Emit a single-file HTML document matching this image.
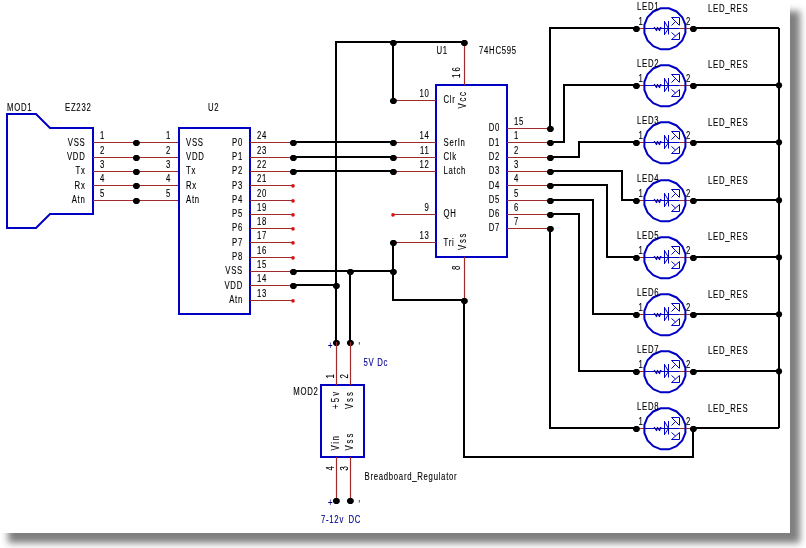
<!DOCTYPE html>
<html><head><meta charset="utf-8"><style>
html,body{margin:0;padding:0;background:#fff;width:806px;height:548px;overflow:hidden}
#shadow{position:absolute;left:8px;top:11px;width:792px;height:532px;background:rgba(0,0,0,0.5);filter:blur(3.5px)}
#page{position:absolute;left:0;top:0;width:790px;height:533px;background:#fff}
svg{position:absolute;left:0;top:0}
text{font-family:"Liberation Sans",sans-serif;letter-spacing:0.9px;stroke:currentColor;stroke-width:0.12px}
svg{will-change:transform}
</style></head><body>
<div id="shadow"></div><div id="page"></div>
<svg width="806" height="548" viewBox="0 0 806 548">
<polygon points="7,114 36,114 50,128 93,128 93,214 50,214 36,228 7,228" fill="none" stroke="#0000c4" stroke-width="2" stroke-linejoin="miter"/>
<text transform="translate(7 111) scale(0.8 1.05)" text-anchor="start" fill="#000" color="#000" font-size="9.7">MOD1</text>
<text transform="translate(65 111) scale(0.8 1.05)" text-anchor="start" fill="#000" color="#000" font-size="9.7">EZ232</text>
<line x1="93" y1="142.5" x2="179" y2="142.5" stroke="#a02a2a" stroke-width="1.2"/>
<text transform="translate(85.5 146) scale(0.8 1.05)" text-anchor="end" fill="#000" color="#000" font-size="9.7">VSS</text>
<text transform="translate(100 139) scale(0.8 1.05)" text-anchor="start" fill="#000" color="#000" font-size="9.7">1</text>
<text transform="translate(166 139) scale(0.8 1.05)" text-anchor="start" fill="#000" color="#000" font-size="9.7">1</text>
<text transform="translate(186 146) scale(0.8 1.05)" text-anchor="start" fill="#000" color="#000" font-size="9.7">VSS</text>
<polygon points="134.80,139.90 138.00,139.90 139.80,141.70 139.80,144.10 138.00,145.90 134.80,145.90 133.00,144.10 133.00,141.70" fill="#000"/>
<line x1="93" y1="157.5" x2="179" y2="157.5" stroke="#a02a2a" stroke-width="1.2"/>
<text transform="translate(85.5 160) scale(0.8 1.05)" text-anchor="end" fill="#000" color="#000" font-size="9.7">VDD</text>
<text transform="translate(100 154) scale(0.8 1.05)" text-anchor="start" fill="#000" color="#000" font-size="9.7">2</text>
<text transform="translate(166 154) scale(0.8 1.05)" text-anchor="start" fill="#000" color="#000" font-size="9.7">2</text>
<text transform="translate(186 160) scale(0.8 1.05)" text-anchor="start" fill="#000" color="#000" font-size="9.7">VDD</text>
<polygon points="134.80,154.90 138.00,154.90 139.80,156.70 139.80,159.10 138.00,160.90 134.80,160.90 133.00,159.10 133.00,156.70" fill="#000"/>
<line x1="93" y1="171.5" x2="179" y2="171.5" stroke="#a02a2a" stroke-width="1.2"/>
<text transform="translate(85.5 174) scale(0.8 1.05)" text-anchor="end" fill="#000" color="#000" font-size="9.7">Tx</text>
<text transform="translate(100 168) scale(0.8 1.05)" text-anchor="start" fill="#000" color="#000" font-size="9.7">3</text>
<text transform="translate(166 168) scale(0.8 1.05)" text-anchor="start" fill="#000" color="#000" font-size="9.7">3</text>
<text transform="translate(186 174) scale(0.8 1.05)" text-anchor="start" fill="#000" color="#000" font-size="9.7">Tx</text>
<polygon points="134.80,168.90 138.00,168.90 139.80,170.70 139.80,173.10 138.00,174.90 134.80,174.90 133.00,173.10 133.00,170.70" fill="#000"/>
<line x1="93" y1="185.5" x2="179" y2="185.5" stroke="#a02a2a" stroke-width="1.2"/>
<text transform="translate(85.5 189) scale(0.8 1.05)" text-anchor="end" fill="#000" color="#000" font-size="9.7">Rx</text>
<text transform="translate(100 182) scale(0.8 1.05)" text-anchor="start" fill="#000" color="#000" font-size="9.7">4</text>
<text transform="translate(166 182) scale(0.8 1.05)" text-anchor="start" fill="#000" color="#000" font-size="9.7">4</text>
<text transform="translate(186 189) scale(0.8 1.05)" text-anchor="start" fill="#000" color="#000" font-size="9.7">Rx</text>
<polygon points="134.80,182.90 138.00,182.90 139.80,184.70 139.80,187.10 138.00,188.90 134.80,188.90 133.00,187.10 133.00,184.70" fill="#000"/>
<line x1="93" y1="200.5" x2="179" y2="200.5" stroke="#a02a2a" stroke-width="1.2"/>
<text transform="translate(85.5 203) scale(0.8 1.05)" text-anchor="end" fill="#000" color="#000" font-size="9.7">Atn</text>
<text transform="translate(100 197) scale(0.8 1.05)" text-anchor="start" fill="#000" color="#000" font-size="9.7">5</text>
<text transform="translate(166 197) scale(0.8 1.05)" text-anchor="start" fill="#000" color="#000" font-size="9.7">5</text>
<text transform="translate(186 203) scale(0.8 1.05)" text-anchor="start" fill="#000" color="#000" font-size="9.7">Atn</text>
<polygon points="134.80,197.90 138.00,197.90 139.80,199.70 139.80,202.10 138.00,203.90 134.80,203.90 133.00,202.10 133.00,199.70" fill="#000"/>
<rect x="179" y="128" width="71" height="186" fill="none" stroke="#0000c4" stroke-width="2"/>
<text transform="translate(208 111) scale(0.8 1.05)" text-anchor="start" fill="#000" color="#000" font-size="9.7">U2</text>
<line x1="250" y1="142.5" x2="293" y2="142.5" stroke="#a02a2a" stroke-width="1.2"/>
<text transform="translate(243 146) scale(0.8 1.05)" text-anchor="end" fill="#000" color="#000" font-size="9.7">P0</text>
<text transform="translate(257 139) scale(0.8 1.05)" text-anchor="start" fill="#000" color="#000" font-size="9.7">24</text>
<polygon points="291.80,139.90 295.00,139.90 296.80,141.70 296.80,144.10 295.00,145.90 291.80,145.90 290.00,144.10 290.00,141.70" fill="#000"/>
<line x1="250" y1="157.5" x2="293" y2="157.5" stroke="#a02a2a" stroke-width="1.2"/>
<text transform="translate(243 160) scale(0.8 1.05)" text-anchor="end" fill="#000" color="#000" font-size="9.7">P1</text>
<text transform="translate(257 154) scale(0.8 1.05)" text-anchor="start" fill="#000" color="#000" font-size="9.7">23</text>
<polygon points="291.80,154.90 295.00,154.90 296.80,156.70 296.80,159.10 295.00,160.90 291.80,160.90 290.00,159.10 290.00,156.70" fill="#000"/>
<line x1="250" y1="171.5" x2="293" y2="171.5" stroke="#a02a2a" stroke-width="1.2"/>
<text transform="translate(243 174) scale(0.8 1.05)" text-anchor="end" fill="#000" color="#000" font-size="9.7">P2</text>
<text transform="translate(257 168) scale(0.8 1.05)" text-anchor="start" fill="#000" color="#000" font-size="9.7">22</text>
<polygon points="291.80,168.90 295.00,168.90 296.80,170.70 296.80,173.10 295.00,174.90 291.80,174.90 290.00,173.10 290.00,170.70" fill="#000"/>
<line x1="250" y1="185.5" x2="293" y2="185.5" stroke="#a02a2a" stroke-width="1.2"/>
<text transform="translate(243 189) scale(0.8 1.05)" text-anchor="end" fill="#000" color="#000" font-size="9.7">P3</text>
<text transform="translate(257 182) scale(0.8 1.05)" text-anchor="start" fill="#000" color="#000" font-size="9.7">21</text>
<circle cx="293" cy="185.9" r="1.8" fill="#e01010"/>
<line x1="250" y1="200.5" x2="293" y2="200.5" stroke="#a02a2a" stroke-width="1.2"/>
<text transform="translate(243 203) scale(0.8 1.05)" text-anchor="end" fill="#000" color="#000" font-size="9.7">P4</text>
<text transform="translate(257 197) scale(0.8 1.05)" text-anchor="start" fill="#000" color="#000" font-size="9.7">20</text>
<circle cx="293" cy="200.9" r="1.8" fill="#e01010"/>
<line x1="250" y1="214.5" x2="293" y2="214.5" stroke="#a02a2a" stroke-width="1.2"/>
<text transform="translate(243 217) scale(0.8 1.05)" text-anchor="end" fill="#000" color="#000" font-size="9.7">P5</text>
<text transform="translate(257 211) scale(0.8 1.05)" text-anchor="start" fill="#000" color="#000" font-size="9.7">19</text>
<circle cx="293" cy="214.9" r="1.8" fill="#e01010"/>
<line x1="250" y1="228.5" x2="293" y2="228.5" stroke="#a02a2a" stroke-width="1.2"/>
<text transform="translate(243 231) scale(0.8 1.05)" text-anchor="end" fill="#000" color="#000" font-size="9.7">P6</text>
<text transform="translate(257 225) scale(0.8 1.05)" text-anchor="start" fill="#000" color="#000" font-size="9.7">18</text>
<circle cx="293" cy="228.9" r="1.8" fill="#e01010"/>
<line x1="250" y1="242.5" x2="293" y2="242.5" stroke="#a02a2a" stroke-width="1.2"/>
<text transform="translate(243 246) scale(0.8 1.05)" text-anchor="end" fill="#000" color="#000" font-size="9.7">P7</text>
<text transform="translate(257 239) scale(0.8 1.05)" text-anchor="start" fill="#000" color="#000" font-size="9.7">17</text>
<circle cx="293" cy="242.9" r="1.8" fill="#e01010"/>
<line x1="250" y1="257.5" x2="293" y2="257.5" stroke="#a02a2a" stroke-width="1.2"/>
<text transform="translate(243 260) scale(0.8 1.05)" text-anchor="end" fill="#000" color="#000" font-size="9.7">P8</text>
<text transform="translate(257 254) scale(0.8 1.05)" text-anchor="start" fill="#000" color="#000" font-size="9.7">16</text>
<circle cx="293" cy="257.9" r="1.8" fill="#e01010"/>
<line x1="250" y1="271.5" x2="293" y2="271.5" stroke="#a02a2a" stroke-width="1.2"/>
<text transform="translate(243 274) scale(0.8 1.05)" text-anchor="end" fill="#000" color="#000" font-size="9.7">VSS</text>
<text transform="translate(257 268) scale(0.8 1.05)" text-anchor="start" fill="#000" color="#000" font-size="9.7">15</text>
<polygon points="291.80,268.90 295.00,268.90 296.80,270.70 296.80,273.10 295.00,274.90 291.80,274.90 290.00,273.10 290.00,270.70" fill="#000"/>
<line x1="250" y1="285.5" x2="293" y2="285.5" stroke="#a02a2a" stroke-width="1.2"/>
<text transform="translate(243 289) scale(0.8 1.05)" text-anchor="end" fill="#000" color="#000" font-size="9.7">VDD</text>
<text transform="translate(257 282) scale(0.8 1.05)" text-anchor="start" fill="#000" color="#000" font-size="9.7">14</text>
<polygon points="291.80,282.90 295.00,282.90 296.80,284.70 296.80,287.10 295.00,288.90 291.80,288.90 290.00,287.10 290.00,284.70" fill="#000"/>
<line x1="250" y1="300.5" x2="293" y2="300.5" stroke="#a02a2a" stroke-width="1.2"/>
<text transform="translate(243 303) scale(0.8 1.05)" text-anchor="end" fill="#000" color="#000" font-size="9.7">Atn</text>
<text transform="translate(257 297) scale(0.8 1.05)" text-anchor="start" fill="#000" color="#000" font-size="9.7">13</text>
<circle cx="293" cy="300.9" r="1.8" fill="#e01010"/>
<polyline points="293,142 393,142" fill="none" stroke="#000" stroke-width="2" stroke-linejoin="miter"/>
<polyline points="293,157 393,157" fill="none" stroke="#000" stroke-width="2" stroke-linejoin="miter"/>
<polyline points="293,171 393,171" fill="none" stroke="#000" stroke-width="2" stroke-linejoin="miter"/>
<polyline points="293,271 393,271" fill="none" stroke="#000" stroke-width="2" stroke-linejoin="miter"/>
<polyline points="293,285 336,285" fill="none" stroke="#000" stroke-width="2" stroke-linejoin="miter"/>
<polyline points="336,342 336,42 464,42" fill="none" stroke="#000" stroke-width="2" stroke-linejoin="miter"/>
<polyline points="393,42 393,100" fill="none" stroke="#000" stroke-width="2" stroke-linejoin="miter"/>
<polyline points="350,271 350,342" fill="none" stroke="#000" stroke-width="2" stroke-linejoin="miter"/>
<polyline points="393,242 393,300 464,300 464,457 693,457 693,428" fill="none" stroke="#000" stroke-width="2" stroke-linejoin="miter"/>
<rect x="436" y="85" width="71" height="172" fill="none" stroke="#0000c4" stroke-width="2"/>
<text transform="translate(436.5 54) scale(0.8 1.05)" text-anchor="start" fill="#000" color="#000" font-size="9.7">U1</text>
<text transform="translate(479 54) scale(0.8 1.05)" text-anchor="start" fill="#000" color="#000" font-size="9.7">74HC595</text>
<line x1="464.5" y1="42" x2="464.5" y2="85" stroke="#a02a2a" stroke-width="1.2"/>
<line x1="464.5" y1="257" x2="464.5" y2="300" stroke="#a02a2a" stroke-width="1.2"/>
<line x1="393" y1="100.5" x2="436" y2="100.5" stroke="#a02a2a" stroke-width="1.2"/>
<text transform="translate(443.5 103) scale(0.8 1.05)" text-anchor="start" fill="#000" color="#000" font-size="9.7">Clr</text>
<text transform="translate(429.5 97) scale(0.8 1.05)" text-anchor="end" fill="#000" color="#000" font-size="9.7">10</text>
<line x1="393" y1="142.5" x2="436" y2="142.5" stroke="#a02a2a" stroke-width="1.2"/>
<text transform="translate(443.5 146) scale(0.8 1.05)" text-anchor="start" fill="#000" color="#000" font-size="9.7">SerIn</text>
<text transform="translate(429.5 139) scale(0.8 1.05)" text-anchor="end" fill="#000" color="#000" font-size="9.7">14</text>
<line x1="393" y1="157.5" x2="436" y2="157.5" stroke="#a02a2a" stroke-width="1.2"/>
<text transform="translate(443.5 160) scale(0.8 1.05)" text-anchor="start" fill="#000" color="#000" font-size="9.7">Clk</text>
<text transform="translate(429.5 154) scale(0.8 1.05)" text-anchor="end" fill="#000" color="#000" font-size="9.7">11</text>
<line x1="393" y1="171.5" x2="436" y2="171.5" stroke="#a02a2a" stroke-width="1.2"/>
<text transform="translate(443.5 174) scale(0.8 1.05)" text-anchor="start" fill="#000" color="#000" font-size="9.7">Latch</text>
<text transform="translate(429.5 168) scale(0.8 1.05)" text-anchor="end" fill="#000" color="#000" font-size="9.7">12</text>
<line x1="393" y1="214.5" x2="436" y2="214.5" stroke="#a02a2a" stroke-width="1.2"/>
<text transform="translate(443.5 217) scale(0.8 1.05)" text-anchor="start" fill="#000" color="#000" font-size="9.7">QH</text>
<text transform="translate(429.5 211) scale(0.8 1.05)" text-anchor="end" fill="#000" color="#000" font-size="9.7">9</text>
<line x1="393" y1="242.5" x2="436" y2="242.5" stroke="#a02a2a" stroke-width="1.2"/>
<text transform="translate(443.5 246) scale(0.8 1.05)" text-anchor="start" fill="#000" color="#000" font-size="9.7">Tri</text>
<text transform="translate(429.5 239) scale(0.8 1.05)" text-anchor="end" fill="#000" color="#000" font-size="9.7">13</text>
<circle cx="393" cy="214.9" r="1.8" fill="#e01010"/>
<line x1="507" y1="128.5" x2="550" y2="128.5" stroke="#a02a2a" stroke-width="1.2"/>
<text transform="translate(500 131) scale(0.8 1.05)" text-anchor="end" fill="#000" color="#000" font-size="9.7">D0</text>
<text transform="translate(514 125) scale(0.8 1.05)" text-anchor="start" fill="#000" color="#000" font-size="9.7">15</text>
<polygon points="548.80,125.90 552.00,125.90 553.80,127.70 553.80,130.10 552.00,131.90 548.80,131.90 547.00,130.10 547.00,127.70" fill="#000"/>
<line x1="507" y1="142.5" x2="550" y2="142.5" stroke="#a02a2a" stroke-width="1.2"/>
<text transform="translate(500 146) scale(0.8 1.05)" text-anchor="end" fill="#000" color="#000" font-size="9.7">D1</text>
<text transform="translate(514 139) scale(0.8 1.05)" text-anchor="start" fill="#000" color="#000" font-size="9.7">1</text>
<polygon points="548.80,139.90 552.00,139.90 553.80,141.70 553.80,144.10 552.00,145.90 548.80,145.90 547.00,144.10 547.00,141.70" fill="#000"/>
<line x1="507" y1="157.5" x2="550" y2="157.5" stroke="#a02a2a" stroke-width="1.2"/>
<text transform="translate(500 160) scale(0.8 1.05)" text-anchor="end" fill="#000" color="#000" font-size="9.7">D2</text>
<text transform="translate(514 154) scale(0.8 1.05)" text-anchor="start" fill="#000" color="#000" font-size="9.7">2</text>
<polygon points="548.80,154.90 552.00,154.90 553.80,156.70 553.80,159.10 552.00,160.90 548.80,160.90 547.00,159.10 547.00,156.70" fill="#000"/>
<line x1="507" y1="171.5" x2="550" y2="171.5" stroke="#a02a2a" stroke-width="1.2"/>
<text transform="translate(500 174) scale(0.8 1.05)" text-anchor="end" fill="#000" color="#000" font-size="9.7">D3</text>
<text transform="translate(514 168) scale(0.8 1.05)" text-anchor="start" fill="#000" color="#000" font-size="9.7">3</text>
<polygon points="548.80,168.90 552.00,168.90 553.80,170.70 553.80,173.10 552.00,174.90 548.80,174.90 547.00,173.10 547.00,170.70" fill="#000"/>
<line x1="507" y1="185.5" x2="550" y2="185.5" stroke="#a02a2a" stroke-width="1.2"/>
<text transform="translate(500 189) scale(0.8 1.05)" text-anchor="end" fill="#000" color="#000" font-size="9.7">D4</text>
<text transform="translate(514 182) scale(0.8 1.05)" text-anchor="start" fill="#000" color="#000" font-size="9.7">4</text>
<polygon points="548.80,182.90 552.00,182.90 553.80,184.70 553.80,187.10 552.00,188.90 548.80,188.90 547.00,187.10 547.00,184.70" fill="#000"/>
<line x1="507" y1="200.5" x2="550" y2="200.5" stroke="#a02a2a" stroke-width="1.2"/>
<text transform="translate(500 203) scale(0.8 1.05)" text-anchor="end" fill="#000" color="#000" font-size="9.7">D5</text>
<text transform="translate(514 197) scale(0.8 1.05)" text-anchor="start" fill="#000" color="#000" font-size="9.7">5</text>
<polygon points="548.80,197.90 552.00,197.90 553.80,199.70 553.80,202.10 552.00,203.90 548.80,203.90 547.00,202.10 547.00,199.70" fill="#000"/>
<line x1="507" y1="214.5" x2="550" y2="214.5" stroke="#a02a2a" stroke-width="1.2"/>
<text transform="translate(500 217) scale(0.8 1.05)" text-anchor="end" fill="#000" color="#000" font-size="9.7">D6</text>
<text transform="translate(514 211) scale(0.8 1.05)" text-anchor="start" fill="#000" color="#000" font-size="9.7">6</text>
<polygon points="548.80,211.90 552.00,211.90 553.80,213.70 553.80,216.10 552.00,217.90 548.80,217.90 547.00,216.10 547.00,213.70" fill="#000"/>
<line x1="507" y1="228.5" x2="550" y2="228.5" stroke="#a02a2a" stroke-width="1.2"/>
<text transform="translate(500 231) scale(0.8 1.05)" text-anchor="end" fill="#000" color="#000" font-size="9.7">D7</text>
<text transform="translate(514 225) scale(0.8 1.05)" text-anchor="start" fill="#000" color="#000" font-size="9.7">7</text>
<polygon points="548.80,225.90 552.00,225.90 553.80,227.70 553.80,230.10 552.00,231.90 548.80,231.90 547.00,230.10 547.00,227.70" fill="#000"/>
<text transform="translate(460 78) rotate(-90) scale(0.8 1.05)" text-anchor="start" fill="#000" color="#000" font-size="9.7" style="letter-spacing:2.6px">16</text>
<text transform="translate(466 108.5) rotate(-90) scale(0.8 1.05)" text-anchor="start" fill="#000" color="#000" font-size="9.7" style="letter-spacing:2.2px">Vcc</text>
<text transform="translate(460 270) rotate(-90) scale(0.8 1.05)" text-anchor="start" fill="#000" color="#000" font-size="9.7">8</text>
<text transform="translate(466 250) rotate(-90) scale(0.8 1.05)" text-anchor="start" fill="#000" color="#000" font-size="9.7" style="letter-spacing:2.2px">Vss</text>
<polygon points="391.80,39.90 395.00,39.90 396.80,41.70 396.80,44.10 395.00,45.90 391.80,45.90 390.00,44.10 390.00,41.70" fill="#000"/>
<polygon points="391.80,97.90 395.00,97.90 396.80,99.70 396.80,102.10 395.00,103.90 391.80,103.90 390.00,102.10 390.00,99.70" fill="#000"/>
<polygon points="391.80,139.90 395.00,139.90 396.80,141.70 396.80,144.10 395.00,145.90 391.80,145.90 390.00,144.10 390.00,141.70" fill="#000"/>
<polygon points="391.80,154.90 395.00,154.90 396.80,156.70 396.80,159.10 395.00,160.90 391.80,160.90 390.00,159.10 390.00,156.70" fill="#000"/>
<polygon points="391.80,168.90 395.00,168.90 396.80,170.70 396.80,173.10 395.00,174.90 391.80,174.90 390.00,173.10 390.00,170.70" fill="#000"/>
<polygon points="391.80,239.90 395.00,239.90 396.80,241.70 396.80,244.10 395.00,245.90 391.80,245.90 390.00,244.10 390.00,241.70" fill="#000"/>
<polygon points="391.80,268.90 395.00,268.90 396.80,270.70 396.80,273.10 395.00,274.90 391.80,274.90 390.00,273.10 390.00,270.70" fill="#000"/>
<polygon points="462.80,39.90 466.00,39.90 467.80,41.70 467.80,44.10 466.00,45.90 462.80,45.90 461.00,44.10 461.00,41.70" fill="#000"/>
<polygon points="462.80,297.90 466.00,297.90 467.80,299.70 467.80,302.10 466.00,303.90 462.80,303.90 461.00,302.10 461.00,299.70" fill="#000"/>
<polygon points="334.80,282.90 338.00,282.90 339.80,284.70 339.80,287.10 338.00,288.90 334.80,288.90 333.00,287.10 333.00,284.70" fill="#000"/>
<polygon points="334.80,339.90 338.00,339.90 339.80,341.70 339.80,344.10 338.00,345.90 334.80,345.90 333.00,344.10 333.00,341.70" fill="#000"/>
<polygon points="348.80,268.90 352.00,268.90 353.80,270.70 353.80,273.10 352.00,274.90 348.80,274.90 347.00,273.10 347.00,270.70" fill="#000"/>
<polygon points="348.80,339.90 352.00,339.90 353.80,341.70 353.80,344.10 352.00,345.90 348.80,345.90 347.00,344.10 347.00,341.70" fill="#000"/>
<polyline points="550,128 550,28 636,28" fill="none" stroke="#000" stroke-width="2" stroke-linejoin="miter"/>
<polyline points="550,142 564,142 564,85 636,85" fill="none" stroke="#000" stroke-width="2" stroke-linejoin="miter"/>
<polyline points="550,157 579,157 579,142 636,142" fill="none" stroke="#000" stroke-width="2" stroke-linejoin="miter"/>
<polyline points="550,171 622,171 622,200 636,200" fill="none" stroke="#000" stroke-width="2" stroke-linejoin="miter"/>
<polyline points="550,185 607,185 607,257 636,257" fill="none" stroke="#000" stroke-width="2" stroke-linejoin="miter"/>
<polyline points="550,200 593,200 593,314 636,314" fill="none" stroke="#000" stroke-width="2" stroke-linejoin="miter"/>
<polyline points="550,214 579,214 579,371 636,371" fill="none" stroke="#000" stroke-width="2" stroke-linejoin="miter"/>
<polyline points="550,228 550,428 636,428" fill="none" stroke="#000" stroke-width="2" stroke-linejoin="miter"/>
<polyline points="779,28 779,428" fill="none" stroke="#000" stroke-width="2" stroke-linejoin="miter"/>
<polyline points="693,28 779,28" fill="none" stroke="#000" stroke-width="2" stroke-linejoin="miter"/>
<line x1="636" y1="28.5" x2="693" y2="28.5" stroke="#a02a2a" stroke-width="1.1"/>
<polygon points="685.40,32.93 682.28,40.46 676.51,46.23 668.98,49.35 660.82,49.35 653.29,46.23 647.52,40.46 644.40,32.93 644.40,24.77 647.52,17.24 653.29,11.47 660.82,8.35 668.98,8.35 676.51,11.47 682.28,17.24 685.40,24.77" fill="none" stroke="#0000c4" stroke-width="2"/>
<g transform="translate(665,28)" fill="none" stroke="#0000c4" stroke-width="1" stroke-linejoin="round"><path d="M-20,0.5 H-11 M-3.5,0.5 H14"/><path d="M-11,0.5 L-10.5,-0.5 L-8.5,2.5 L-7.5,-0.5 L-5.5,2.5 L-4.5,-0.5 L-3.5,0.5" stroke-width="1.3"/><path d="M-0.5,-7 V7 M3.5,-7 V6.5 M-0.5,-6.5 L3.5,0.5 L-0.5,6.5"/><path d="M6.5,-10.5 H14.5 V-3 M6.5,-10.5 L14.5,-2.5 M6.5,-2.5 L10.5,-6.5"/><path d="M6.5,11.5 H14.5 V4.5 M6.5,11.5 L14.5,4.5 M6.5,4.5 L10.5,8"/></g>
<polygon points="634.80,25.90 638.00,25.90 639.80,27.70 639.80,30.10 638.00,31.90 634.80,31.90 633.00,30.10 633.00,27.70" fill="#000"/>
<polygon points="691.80,25.90 695.00,25.90 696.80,27.70 696.80,30.10 695.00,31.90 691.80,31.90 690.00,30.10 690.00,27.70" fill="#000"/>
<text transform="translate(637 10) scale(0.8 1.05)" text-anchor="start" fill="#000" color="#000" font-size="9.7">LED1</text>
<text transform="translate(638.5 25) scale(0.8 1.05)" text-anchor="start" fill="#000" color="#000" font-size="9.7">1</text>
<text transform="translate(686 25) scale(0.8 1.05)" text-anchor="start" fill="#000" color="#000" font-size="9.7">2</text>
<text transform="translate(708 12) scale(0.8 1.05)" text-anchor="start" fill="#000" color="#000" font-size="9.7">LED_RES</text>
<polyline points="693,85 779,85" fill="none" stroke="#000" stroke-width="2" stroke-linejoin="miter"/>
<line x1="636" y1="85.5" x2="693" y2="85.5" stroke="#a02a2a" stroke-width="1.1"/>
<polygon points="685.40,89.93 682.28,97.46 676.51,103.23 668.98,106.35 660.82,106.35 653.29,103.23 647.52,97.46 644.40,89.93 644.40,81.77 647.52,74.24 653.29,68.47 660.82,65.35 668.98,65.35 676.51,68.47 682.28,74.24 685.40,81.77" fill="none" stroke="#0000c4" stroke-width="2"/>
<g transform="translate(665,85)" fill="none" stroke="#0000c4" stroke-width="1" stroke-linejoin="round"><path d="M-20,0.5 H-11 M-3.5,0.5 H14"/><path d="M-11,0.5 L-10.5,-0.5 L-8.5,2.5 L-7.5,-0.5 L-5.5,2.5 L-4.5,-0.5 L-3.5,0.5" stroke-width="1.3"/><path d="M-0.5,-7 V7 M3.5,-7 V6.5 M-0.5,-6.5 L3.5,0.5 L-0.5,6.5"/><path d="M6.5,-10.5 H14.5 V-3 M6.5,-10.5 L14.5,-2.5 M6.5,-2.5 L10.5,-6.5"/><path d="M6.5,11.5 H14.5 V4.5 M6.5,11.5 L14.5,4.5 M6.5,4.5 L10.5,8"/></g>
<polygon points="634.80,82.90 638.00,82.90 639.80,84.70 639.80,87.10 638.00,88.90 634.80,88.90 633.00,87.10 633.00,84.70" fill="#000"/>
<polygon points="691.80,82.90 695.00,82.90 696.80,84.70 696.80,87.10 695.00,88.90 691.80,88.90 690.00,87.10 690.00,84.70" fill="#000"/>
<circle cx="779" cy="85.3" r="3.1" fill="#000"/>
<text transform="translate(637 67) scale(0.8 1.05)" text-anchor="start" fill="#000" color="#000" font-size="9.7">LED2</text>
<text transform="translate(638.5 82) scale(0.8 1.05)" text-anchor="start" fill="#000" color="#000" font-size="9.7">1</text>
<text transform="translate(686 82) scale(0.8 1.05)" text-anchor="start" fill="#000" color="#000" font-size="9.7">2</text>
<text transform="translate(708 68) scale(0.8 1.05)" text-anchor="start" fill="#000" color="#000" font-size="9.7">LED_RES</text>
<polyline points="693,142 779,142" fill="none" stroke="#000" stroke-width="2" stroke-linejoin="miter"/>
<line x1="636" y1="142.5" x2="693" y2="142.5" stroke="#a02a2a" stroke-width="1.1"/>
<polygon points="685.40,146.93 682.28,154.46 676.51,160.23 668.98,163.35 660.82,163.35 653.29,160.23 647.52,154.46 644.40,146.93 644.40,138.77 647.52,131.24 653.29,125.47 660.82,122.35 668.98,122.35 676.51,125.47 682.28,131.24 685.40,138.77" fill="none" stroke="#0000c4" stroke-width="2"/>
<g transform="translate(665,142)" fill="none" stroke="#0000c4" stroke-width="1" stroke-linejoin="round"><path d="M-20,0.5 H-11 M-3.5,0.5 H14"/><path d="M-11,0.5 L-10.5,-0.5 L-8.5,2.5 L-7.5,-0.5 L-5.5,2.5 L-4.5,-0.5 L-3.5,0.5" stroke-width="1.3"/><path d="M-0.5,-7 V7 M3.5,-7 V6.5 M-0.5,-6.5 L3.5,0.5 L-0.5,6.5"/><path d="M6.5,-10.5 H14.5 V-3 M6.5,-10.5 L14.5,-2.5 M6.5,-2.5 L10.5,-6.5"/><path d="M6.5,11.5 H14.5 V4.5 M6.5,11.5 L14.5,4.5 M6.5,4.5 L10.5,8"/></g>
<polygon points="634.80,139.90 638.00,139.90 639.80,141.70 639.80,144.10 638.00,145.90 634.80,145.90 633.00,144.10 633.00,141.70" fill="#000"/>
<polygon points="691.80,139.90 695.00,139.90 696.80,141.70 696.80,144.10 695.00,145.90 691.80,145.90 690.00,144.10 690.00,141.70" fill="#000"/>
<circle cx="779" cy="142.3" r="3.1" fill="#000"/>
<text transform="translate(637 124) scale(0.8 1.05)" text-anchor="start" fill="#000" color="#000" font-size="9.7">LED3</text>
<text transform="translate(638.5 139) scale(0.8 1.05)" text-anchor="start" fill="#000" color="#000" font-size="9.7">1</text>
<text transform="translate(686 139) scale(0.8 1.05)" text-anchor="start" fill="#000" color="#000" font-size="9.7">2</text>
<text transform="translate(708 126) scale(0.8 1.05)" text-anchor="start" fill="#000" color="#000" font-size="9.7">LED_RES</text>
<polyline points="693,200 779,200" fill="none" stroke="#000" stroke-width="2" stroke-linejoin="miter"/>
<line x1="636" y1="200.5" x2="693" y2="200.5" stroke="#a02a2a" stroke-width="1.1"/>
<polygon points="685.40,204.93 682.28,212.46 676.51,218.23 668.98,221.35 660.82,221.35 653.29,218.23 647.52,212.46 644.40,204.93 644.40,196.77 647.52,189.24 653.29,183.47 660.82,180.35 668.98,180.35 676.51,183.47 682.28,189.24 685.40,196.77" fill="none" stroke="#0000c4" stroke-width="2"/>
<g transform="translate(665,200)" fill="none" stroke="#0000c4" stroke-width="1" stroke-linejoin="round"><path d="M-20,0.5 H-11 M-3.5,0.5 H14"/><path d="M-11,0.5 L-10.5,-0.5 L-8.5,2.5 L-7.5,-0.5 L-5.5,2.5 L-4.5,-0.5 L-3.5,0.5" stroke-width="1.3"/><path d="M-0.5,-7 V7 M3.5,-7 V6.5 M-0.5,-6.5 L3.5,0.5 L-0.5,6.5"/><path d="M6.5,-10.5 H14.5 V-3 M6.5,-10.5 L14.5,-2.5 M6.5,-2.5 L10.5,-6.5"/><path d="M6.5,11.5 H14.5 V4.5 M6.5,11.5 L14.5,4.5 M6.5,4.5 L10.5,8"/></g>
<polygon points="634.80,197.90 638.00,197.90 639.80,199.70 639.80,202.10 638.00,203.90 634.80,203.90 633.00,202.10 633.00,199.70" fill="#000"/>
<polygon points="691.80,197.90 695.00,197.90 696.80,199.70 696.80,202.10 695.00,203.90 691.80,203.90 690.00,202.10 690.00,199.70" fill="#000"/>
<circle cx="779" cy="200.3" r="3.1" fill="#000"/>
<text transform="translate(637 182) scale(0.8 1.05)" text-anchor="start" fill="#000" color="#000" font-size="9.7">LED4</text>
<text transform="translate(638.5 197) scale(0.8 1.05)" text-anchor="start" fill="#000" color="#000" font-size="9.7">1</text>
<text transform="translate(686 197) scale(0.8 1.05)" text-anchor="start" fill="#000" color="#000" font-size="9.7">2</text>
<text transform="translate(708 184) scale(0.8 1.05)" text-anchor="start" fill="#000" color="#000" font-size="9.7">LED_RES</text>
<polyline points="693,257 779,257" fill="none" stroke="#000" stroke-width="2" stroke-linejoin="miter"/>
<line x1="636" y1="257.5" x2="693" y2="257.5" stroke="#a02a2a" stroke-width="1.1"/>
<polygon points="685.40,261.93 682.28,269.46 676.51,275.23 668.98,278.35 660.82,278.35 653.29,275.23 647.52,269.46 644.40,261.93 644.40,253.77 647.52,246.24 653.29,240.47 660.82,237.35 668.98,237.35 676.51,240.47 682.28,246.24 685.40,253.77" fill="none" stroke="#0000c4" stroke-width="2"/>
<g transform="translate(665,257)" fill="none" stroke="#0000c4" stroke-width="1" stroke-linejoin="round"><path d="M-20,0.5 H-11 M-3.5,0.5 H14"/><path d="M-11,0.5 L-10.5,-0.5 L-8.5,2.5 L-7.5,-0.5 L-5.5,2.5 L-4.5,-0.5 L-3.5,0.5" stroke-width="1.3"/><path d="M-0.5,-7 V7 M3.5,-7 V6.5 M-0.5,-6.5 L3.5,0.5 L-0.5,6.5"/><path d="M6.5,-10.5 H14.5 V-3 M6.5,-10.5 L14.5,-2.5 M6.5,-2.5 L10.5,-6.5"/><path d="M6.5,11.5 H14.5 V4.5 M6.5,11.5 L14.5,4.5 M6.5,4.5 L10.5,8"/></g>
<polygon points="634.80,254.90 638.00,254.90 639.80,256.70 639.80,259.10 638.00,260.90 634.80,260.90 633.00,259.10 633.00,256.70" fill="#000"/>
<polygon points="691.80,254.90 695.00,254.90 696.80,256.70 696.80,259.10 695.00,260.90 691.80,260.90 690.00,259.10 690.00,256.70" fill="#000"/>
<circle cx="779" cy="257.3" r="3.1" fill="#000"/>
<text transform="translate(637 239) scale(0.8 1.05)" text-anchor="start" fill="#000" color="#000" font-size="9.7">LED5</text>
<text transform="translate(638.5 254) scale(0.8 1.05)" text-anchor="start" fill="#000" color="#000" font-size="9.7">1</text>
<text transform="translate(686 254) scale(0.8 1.05)" text-anchor="start" fill="#000" color="#000" font-size="9.7">2</text>
<text transform="translate(708 240) scale(0.8 1.05)" text-anchor="start" fill="#000" color="#000" font-size="9.7">LED_RES</text>
<polyline points="693,314 779,314" fill="none" stroke="#000" stroke-width="2" stroke-linejoin="miter"/>
<line x1="636" y1="314.5" x2="693" y2="314.5" stroke="#a02a2a" stroke-width="1.1"/>
<polygon points="685.40,318.93 682.28,326.46 676.51,332.23 668.98,335.35 660.82,335.35 653.29,332.23 647.52,326.46 644.40,318.93 644.40,310.77 647.52,303.24 653.29,297.47 660.82,294.35 668.98,294.35 676.51,297.47 682.28,303.24 685.40,310.77" fill="none" stroke="#0000c4" stroke-width="2"/>
<g transform="translate(665,314)" fill="none" stroke="#0000c4" stroke-width="1" stroke-linejoin="round"><path d="M-20,0.5 H-11 M-3.5,0.5 H14"/><path d="M-11,0.5 L-10.5,-0.5 L-8.5,2.5 L-7.5,-0.5 L-5.5,2.5 L-4.5,-0.5 L-3.5,0.5" stroke-width="1.3"/><path d="M-0.5,-7 V7 M3.5,-7 V6.5 M-0.5,-6.5 L3.5,0.5 L-0.5,6.5"/><path d="M6.5,-10.5 H14.5 V-3 M6.5,-10.5 L14.5,-2.5 M6.5,-2.5 L10.5,-6.5"/><path d="M6.5,11.5 H14.5 V4.5 M6.5,11.5 L14.5,4.5 M6.5,4.5 L10.5,8"/></g>
<polygon points="634.80,311.90 638.00,311.90 639.80,313.70 639.80,316.10 638.00,317.90 634.80,317.90 633.00,316.10 633.00,313.70" fill="#000"/>
<polygon points="691.80,311.90 695.00,311.90 696.80,313.70 696.80,316.10 695.00,317.90 691.80,317.90 690.00,316.10 690.00,313.70" fill="#000"/>
<circle cx="779" cy="314.3" r="3.1" fill="#000"/>
<text transform="translate(637 296) scale(0.8 1.05)" text-anchor="start" fill="#000" color="#000" font-size="9.7">LED6</text>
<text transform="translate(638.5 311) scale(0.8 1.05)" text-anchor="start" fill="#000" color="#000" font-size="9.7">1</text>
<text transform="translate(686 311) scale(0.8 1.05)" text-anchor="start" fill="#000" color="#000" font-size="9.7">2</text>
<text transform="translate(708 298) scale(0.8 1.05)" text-anchor="start" fill="#000" color="#000" font-size="9.7">LED_RES</text>
<polyline points="693,371 779,371" fill="none" stroke="#000" stroke-width="2" stroke-linejoin="miter"/>
<line x1="636" y1="371.5" x2="693" y2="371.5" stroke="#a02a2a" stroke-width="1.1"/>
<polygon points="685.40,375.93 682.28,383.46 676.51,389.23 668.98,392.35 660.82,392.35 653.29,389.23 647.52,383.46 644.40,375.93 644.40,367.77 647.52,360.24 653.29,354.47 660.82,351.35 668.98,351.35 676.51,354.47 682.28,360.24 685.40,367.77" fill="none" stroke="#0000c4" stroke-width="2"/>
<g transform="translate(665,371)" fill="none" stroke="#0000c4" stroke-width="1" stroke-linejoin="round"><path d="M-20,0.5 H-11 M-3.5,0.5 H14"/><path d="M-11,0.5 L-10.5,-0.5 L-8.5,2.5 L-7.5,-0.5 L-5.5,2.5 L-4.5,-0.5 L-3.5,0.5" stroke-width="1.3"/><path d="M-0.5,-7 V7 M3.5,-7 V6.5 M-0.5,-6.5 L3.5,0.5 L-0.5,6.5"/><path d="M6.5,-10.5 H14.5 V-3 M6.5,-10.5 L14.5,-2.5 M6.5,-2.5 L10.5,-6.5"/><path d="M6.5,11.5 H14.5 V4.5 M6.5,11.5 L14.5,4.5 M6.5,4.5 L10.5,8"/></g>
<polygon points="634.80,368.90 638.00,368.90 639.80,370.70 639.80,373.10 638.00,374.90 634.80,374.90 633.00,373.10 633.00,370.70" fill="#000"/>
<polygon points="691.80,368.90 695.00,368.90 696.80,370.70 696.80,373.10 695.00,374.90 691.80,374.90 690.00,373.10 690.00,370.70" fill="#000"/>
<circle cx="779" cy="371.3" r="3.1" fill="#000"/>
<text transform="translate(637 353) scale(0.8 1.05)" text-anchor="start" fill="#000" color="#000" font-size="9.7">LED7</text>
<text transform="translate(638.5 368) scale(0.8 1.05)" text-anchor="start" fill="#000" color="#000" font-size="9.7">1</text>
<text transform="translate(686 368) scale(0.8 1.05)" text-anchor="start" fill="#000" color="#000" font-size="9.7">2</text>
<text transform="translate(708 354) scale(0.8 1.05)" text-anchor="start" fill="#000" color="#000" font-size="9.7">LED_RES</text>
<polyline points="693,428 779,428" fill="none" stroke="#000" stroke-width="2" stroke-linejoin="miter"/>
<line x1="636" y1="428.5" x2="693" y2="428.5" stroke="#a02a2a" stroke-width="1.1"/>
<polygon points="685.40,432.93 682.28,440.46 676.51,446.23 668.98,449.35 660.82,449.35 653.29,446.23 647.52,440.46 644.40,432.93 644.40,424.77 647.52,417.24 653.29,411.47 660.82,408.35 668.98,408.35 676.51,411.47 682.28,417.24 685.40,424.77" fill="none" stroke="#0000c4" stroke-width="2"/>
<g transform="translate(665,428)" fill="none" stroke="#0000c4" stroke-width="1" stroke-linejoin="round"><path d="M-20,0.5 H-11 M-3.5,0.5 H14"/><path d="M-11,0.5 L-10.5,-0.5 L-8.5,2.5 L-7.5,-0.5 L-5.5,2.5 L-4.5,-0.5 L-3.5,0.5" stroke-width="1.3"/><path d="M-0.5,-7 V7 M3.5,-7 V6.5 M-0.5,-6.5 L3.5,0.5 L-0.5,6.5"/><path d="M6.5,-10.5 H14.5 V-3 M6.5,-10.5 L14.5,-2.5 M6.5,-2.5 L10.5,-6.5"/><path d="M6.5,11.5 H14.5 V4.5 M6.5,11.5 L14.5,4.5 M6.5,4.5 L10.5,8"/></g>
<polygon points="634.80,425.90 638.00,425.90 639.80,427.70 639.80,430.10 638.00,431.90 634.80,431.90 633.00,430.10 633.00,427.70" fill="#000"/>
<polygon points="691.80,425.90 695.00,425.90 696.80,427.70 696.80,430.10 695.00,431.90 691.80,431.90 690.00,430.10 690.00,427.70" fill="#000"/>
<text transform="translate(637 410) scale(0.8 1.05)" text-anchor="start" fill="#000" color="#000" font-size="9.7">LED8</text>
<text transform="translate(638.5 425) scale(0.8 1.05)" text-anchor="start" fill="#000" color="#000" font-size="9.7">1</text>
<text transform="translate(686 425) scale(0.8 1.05)" text-anchor="start" fill="#000" color="#000" font-size="9.7">2</text>
<text transform="translate(708 412) scale(0.8 1.05)" text-anchor="start" fill="#000" color="#000" font-size="9.7">LED_RES</text>
<rect x="321" y="385" width="43" height="72" fill="none" stroke="#0000c4" stroke-width="2"/>
<line x1="336.5" y1="342" x2="336.5" y2="385" stroke="#a02a2a" stroke-width="1.2"/>
<line x1="350.5" y1="342" x2="350.5" y2="385" stroke="#a02a2a" stroke-width="1.2"/>
<line x1="336.5" y1="457" x2="336.5" y2="500" stroke="#a02a2a" stroke-width="1.2"/>
<line x1="350.5" y1="457" x2="350.5" y2="500" stroke="#a02a2a" stroke-width="1.2"/>
<polygon points="334.80,497.90 338.00,497.90 339.80,499.70 339.80,502.10 338.00,503.90 334.80,503.90 333.00,502.10 333.00,499.70" fill="#000"/>
<polygon points="348.80,497.90 352.00,497.90 353.80,499.70 353.80,502.10 352.00,503.90 348.80,503.90 347.00,502.10 347.00,499.70" fill="#000"/>
<text transform="translate(318.5 395) scale(0.8 1.05)" text-anchor="end" fill="#000" color="#000" font-size="9.7">MOD2</text>
<text transform="translate(334 378.5) rotate(-90) scale(0.8 1.05)" text-anchor="start" fill="#000" color="#000" font-size="9.7">1</text>
<text transform="translate(348 378.5) rotate(-90) scale(0.8 1.05)" text-anchor="start" fill="#000" color="#000" font-size="9.7">2</text>
<text transform="translate(339 409) rotate(-90) scale(0.8 1.05)" text-anchor="start" fill="#000" color="#000" font-size="9.7" style="letter-spacing:2.8px">+5v</text>
<text transform="translate(353 409) rotate(-90) scale(0.8 1.05)" text-anchor="start" fill="#000" color="#000" font-size="9.7" style="letter-spacing:2.4px">Vss</text>
<text transform="translate(339 450.5) rotate(-90) scale(0.8 1.05)" text-anchor="start" fill="#000" color="#000" font-size="9.7" style="letter-spacing:2.2px">Vin</text>
<text transform="translate(353 450.5) rotate(-90) scale(0.8 1.05)" text-anchor="start" fill="#000" color="#000" font-size="9.7" style="letter-spacing:2.4px">Vss</text>
<text transform="translate(334 470.5) rotate(-90) scale(0.8 1.05)" text-anchor="start" fill="#000" color="#000" font-size="9.7">4</text>
<text transform="translate(348 470.5) rotate(-90) scale(0.8 1.05)" text-anchor="start" fill="#000" color="#000" font-size="9.7">3</text>
<text transform="translate(328 349) scale(0.8 1.05)" text-anchor="start" fill="#000090" color="#000090" font-size="9.7">+</text>
<text transform="translate(358.5 350) scale(0.8 1.05)" text-anchor="start" fill="#000090" color="#000090" font-size="9.7">'</text>
<text transform="translate(363.5 366) scale(0.8 1.05)" text-anchor="start" fill="#000090" color="#000090" font-size="9.7">5V Dc</text>
<text transform="translate(328 506) scale(0.8 1.05)" text-anchor="start" fill="#000090" color="#000090" font-size="9.7">+</text>
<text transform="translate(358.5 508) scale(0.8 1.05)" text-anchor="start" fill="#000090" color="#000090" font-size="9.7">'</text>
<text transform="translate(321 523) scale(0.8 1.05)" text-anchor="start" fill="#000090" color="#000090" font-size="9.7">7-12v</text>
<text transform="translate(348.5 523) scale(0.8 1.05)" text-anchor="start" fill="#000090" color="#000090" font-size="9.7">DC</text>
<text transform="translate(364.5 480) scale(0.8 1.05)" text-anchor="start" fill="#000" color="#000" font-size="9.7">Breadboard_Regulator</text>
</svg>
</body></html>
